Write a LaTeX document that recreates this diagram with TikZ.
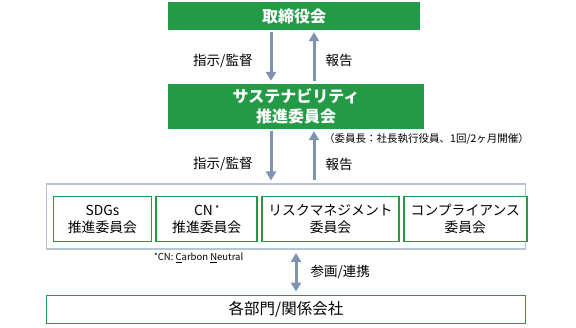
\documentclass[tikz,border=0pt]{standalone}
\usepackage{fontspec}
\setmainfont{Noto Sans CJK JP}
\usetikzlibrary{arrows.meta,positioning}

\definecolor{boardgreen}{RGB}{35,154,70}
\definecolor{framegray}{RGB}{184,194,212}
\definecolor{flowblue}{RGB}{125,147,176}

\begin{document}
\begin{tikzpicture}[
        x=1pt, y=-1pt,
        node distance=3pt,
        board/.style={
            fill=boardgreen,
            text=white,
            align=center,
            inner sep=0pt,
            font=\fontsize{16}{20}\selectfont\bfseries
        },
        committee/.style={
            draw=boardgreen,
            fill=white,
            line width=1.8pt,
            align=center,
            inner sep=0pt,
            minimum height=45pt,
            font=\fontsize{13.8}{17}\selectfont
        },
        flow/.style={
            -{Triangle[length=9pt,width=10pt]},
            line width=3pt,
            draw=flowblue
        },
        twoway/.style={
            {Triangle[length=9pt,width=10pt]}-{Triangle[length=9pt,width=10pt]},
            line width=3pt,
            draw=flowblue
        },
        tag/.style={font=\fontsize{13.5}{16}\selectfont, inner sep=0pt}
    ]
        \useasboundingbox (0,0) rectangle (576,328);

        \node[board, minimum width=252pt, minimum height=28pt] (board) at (294,16) {取締役会};
        \node[board, minimum width=256pt, minimum height=45pt] (promo) at (296,106.5) {サステナビリティ\\推進委員会};
        \node[font=\fontsize{10.5}{12}\selectfont, anchor=west, inner sep=0pt] (chairnote) at (324,139) {（委員長：社長執行役員、1回/2ヶ月開催）};

        \node[draw=framegray, line width=1.5pt, minimum width=479pt, minimum height=65pt, inner sep=0pt] (panel) at (286,216.75) {};
        \node[committee, minimum width=98pt, anchor=west] (sdgs) at (52.5,219) {SDGs\\推進委員会};
        \node[committee, minimum width=101pt, right=of sdgs] (cn) {CN\,\raisebox{2.5pt}{\fontsize{9}{9}\selectfont *}\\推進委員会};
        \node[committee, minimum width=137pt, right=of cn] (risk) {リスクマネジメント\\委員会};
        \node[committee, minimum width=123pt, right=of risk] (comply) {コンプライアンス\\委員会};
        \node[font=\fontsize{9.5}{11}\selectfont, anchor=west, inner sep=0pt] (cnnote) at (154,258) {\raisebox{1pt}{\fontsize{8}{8}\selectfont *}CN: \underline{C}arbon \underline{N}eutral};

        \node[committee, minimum width=479pt, minimum height=28pt, font=\fontsize{15.5}{18}\selectfont] (units) at (286,309.5) {各部門/関係会社};

        % board <-> promotion committee
        \draw[flow, shorten <=2pt, shorten >=3pt] ([xshift=-23pt]board.south) -- node[tag, pos=0.57, left=17pt] {指示/監督} ([xshift=-23pt]board.south |- promo.north);
        \draw[flow, shorten <=3pt, shorten >=2pt] ([xshift=20pt]board.south |- promo.north) -- node[tag, pos=0.43, right=10pt] {報告} ([xshift=20pt]board.south);

        % promotion committee <-> committees
        \draw[flow, shorten <=2pt, shorten >=3pt] ([xshift=-25pt]promo.south) -- node[tag, pos=0.64, left=17pt] {指示/監督} ([xshift=-25pt]promo.south |- panel.north);
        \draw[flow, shorten <=3pt, shorten >=2pt] ([xshift=18pt]promo.south |- panel.north) -- node[tag, pos=0.36, right=10pt] {報告} ([xshift=18pt]promo.south);

        % committees <-> departments
        \draw[twoway, shorten <=3pt, shorten >=3pt] ([xshift=10pt]panel.south) -- node[tag, right=13pt] {参画/連携} ([xshift=10pt]panel.south |- units.north);
    \end{tikzpicture}
\end{document}
